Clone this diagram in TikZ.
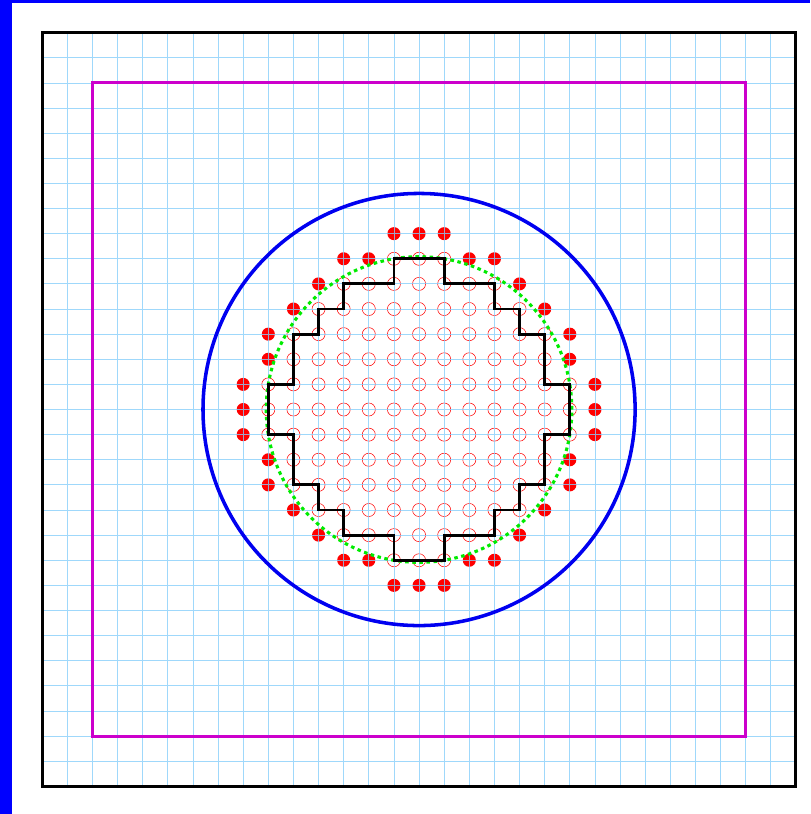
\documentclass[tikz,border=0pt]{standalone}
\usepackage{tikz}

\begin{document}
\begin{tikzpicture}[line join=miter]
  % Local definitions
  \def\radsq{37}
  \def\dotrad{0.26}

  % Colors
  \definecolor{gridcolor}{RGB}{135,206,250}
  \definecolor{framecolor}{RGB}{0,0,255}
  \definecolor{squarecolor}{RGB}{204,0,204}
  \definecolor{outercolor}{RGB}{0,0,240}
  \definecolor{threshcolor}{RGB}{0,235,0}
  \definecolor{pointcolor}{RGB}{255,0,0}

  % Styles
  \tikzstyle{domain box}=[line width=3.4pt,black]
  \tikzstyle{inner box}=[line width=3.6pt,squarecolor]
  \tikzstyle{outer circle}=[line width=4pt,outercolor]
  \tikzstyle{threshold}=[line width=3.5pt,threshcolor,dash pattern=on 4pt off 4pt]
  \tikzstyle{boundary}=[line width=3.2pt,black]
  \tikzstyle{inner point}=[line width=0.6pt,pointcolor]
  \tikzstyle{outer point}=[pointcolor]

  \useasboundingbox (-16.68,-16.10) rectangle (15.565,16.30);

  % The frame
  \fill[framecolor] (-16.68,-16.10) rectangle (-16.20,16.30);
  \fill[framecolor] (-16.68,16.18) rectangle (15.565,16.30);

  % The points
  \foreach \i in {-7,...,7}
    \foreach \j in {-7,...,7} {
      \pgfmathtruncatemacro\dsq{\i*\i+\j*\j}
      \pgfmathtruncatemacro\nsq{min((abs(\i)-1)^2+\j*\j,\i*\i+(abs(\j)-1)^2)}
      \ifnum\dsq>\radsq
        \ifnum\nsq>\radsq\else
          \fill[outer point] (\i,\j) circle (\dotrad);
        \fi
      \else
        \draw[inner point] (\i,\j) circle (\dotrad);
      \fi
    }

  \draw[gridcolor,line width=0.9pt,opacity=0.8,step=1cm] (-15,-15) grid (15,15);

  % The graphic
  \draw[inner box] (-13,-13) rectangle (13,13);
  \draw[outer circle] (0,0) circle (8.6);
  \draw[threshold] (0,0) circle ({sqrt(\radsq)});

  \draw[boundary] (-1,6) -- (1,6) -- (1,5) -- (3,5) -- (3,4) -- (4,4)
    -- (4,3) -- (5,3) -- (5,1) -- (6,1) -- (6,-1) -- (5,-1) -- (5,-3)
    -- (4,-3) -- (4,-4) -- (3,-4) -- (3,-5) -- (1,-5) -- (1,-6)
    -- (-1,-6) -- (-1,-5) -- (-3,-5) -- (-3,-4) -- (-4,-4) -- (-4,-3)
    -- (-5,-3) -- (-5,-1) -- (-6,-1) -- (-6,1) -- (-5,1) -- (-5,3)
    -- (-4,3) -- (-4,4) -- (-3,4) -- (-3,5) -- (-1,5) -- cycle;

  \draw[domain box] (-15,-15) rectangle (15,15);
\end{tikzpicture}
\end{document}
